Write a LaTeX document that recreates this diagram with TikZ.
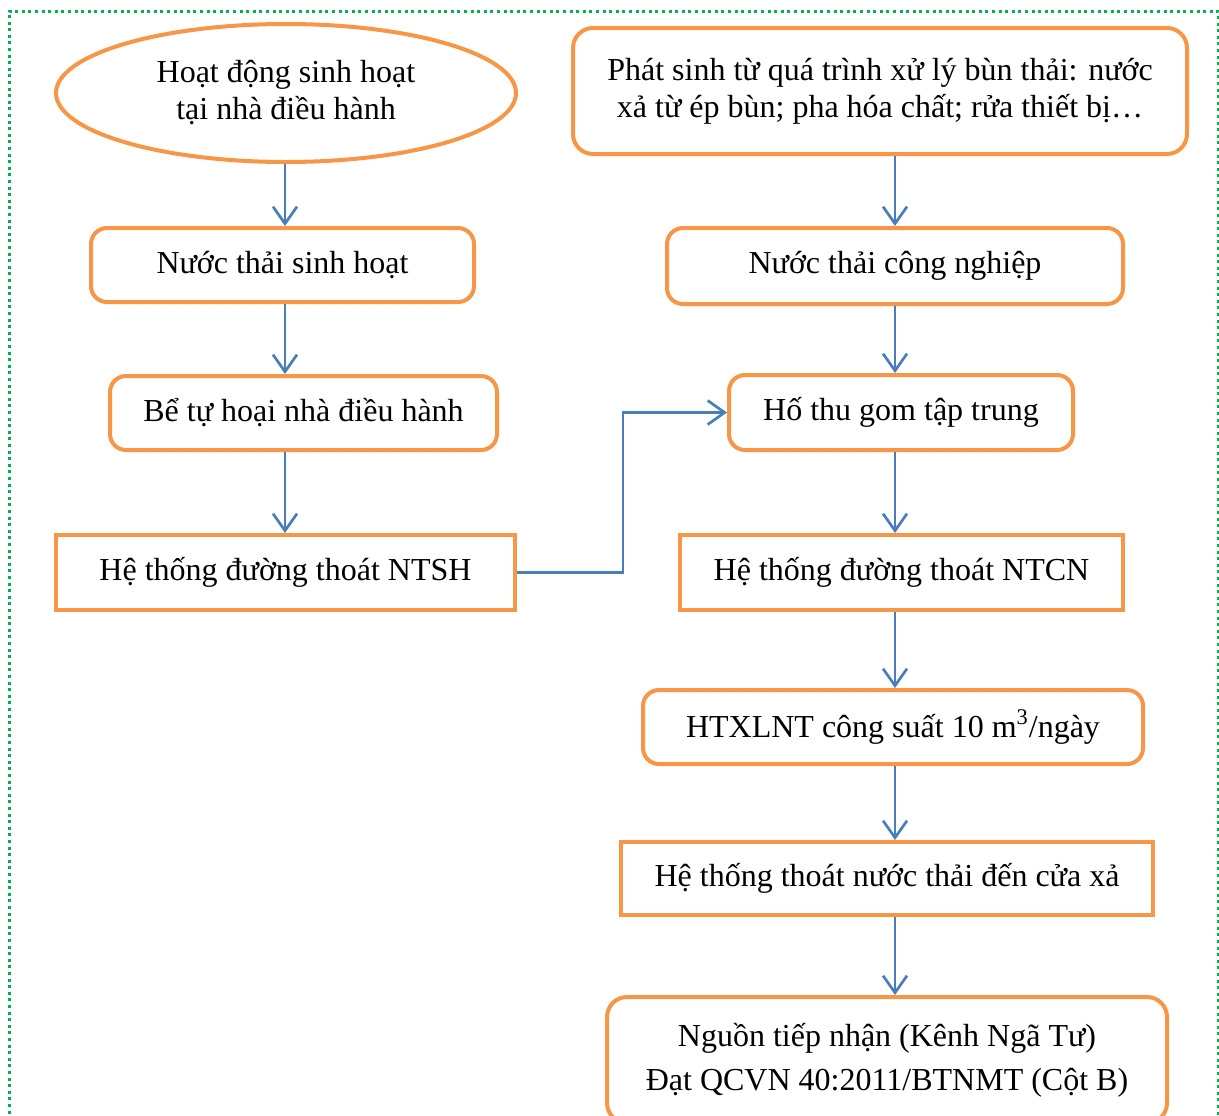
\documentclass[tikz,border=0pt]{standalone}
\usepackage{fontspec}
\setmainfont{Liberation Serif}
\usetikzlibrary{arrows.meta,shapes.geometric}
\definecolor{boxorange}{HTML}{F79646}
\definecolor{arrblue}{HTML}{4A7EBB}
\definecolor{framegreen}{HTML}{00B050}
\begin{document}
\begin{tikzpicture}[x=0.5pt,y=-0.5pt,
  every node/.style={font=\fontsize{16pt}{18.5pt}\selectfont, align=center, inner sep=0pt},
  rbox/.style={draw=boxorange, line width=2pt, rounded corners=8pt, fill=white},
  sbox/.style={draw=boxorange, line width=2pt, fill=white},
  oval/.style={draw=boxorange, line width=2pt, ellipse, fill=white},
  flow/.style={draw=arrblue, line width=1.35pt, -{Straight Barb[length=8.5pt,width=12pt,line width=1.35pt]}},
  frame/.style={draw=framegreen, line width=1.5pt, dash pattern=on 1.5pt off 1.8pt}
]
\useasboundingbox (0,0) rectangle (1219,1115);
\clip (0,0) rectangle (1219,1115);
\fill[white] (0,0) rectangle (1219,1115);
\draw[frame] (9,1140) -- (9,11) -- (1218,11) -- (1218,1140);

\coordinate (colL) at (285,0);
\coordinate (colR) at (895,0);
\coordinate (elbow) at (623,0);

\node[oval, minimum width=230pt, minimum height=69pt] (ell) at (286,93) {Hoạt động sinh hoạt\\tại nhà điều hành};
\node[rbox, minimum width=307pt, minimum height=63pt, rounded corners=10pt] (p1) at (880,91) {Phát sinh từ quá trình xử lý bùn thải: nước\\xả từ ép bùn; pha hóa chất; rửa thiết bị…};
\node[rbox, minimum width=191.5pt, minimum height=37pt] (n1) at (282.5,265) {Nước thải sinh hoạt};
\node[rbox, minimum width=228pt, minimum height=38pt] (n2) at (895,266) {Nước thải công nghiệp};
\node[rbox, minimum width=193.5pt, minimum height=37pt] (b1) at (303.5,413) {Bể tự hoại nhà điều hành};
\node[rbox, minimum width=172pt, minimum height=37.5pt] (h1) at (901,412.5) {Hố thu gom tập trung};
\node[sbox, minimum width=229.5pt, minimum height=37.5pt] (s1) at (285.5,572.5) {Hệ thống đường thoát NTSH};
\node[sbox, minimum width=221.5pt, minimum height=37.5pt] (s2) at (901.5,572.5) {Hệ thống đường thoát NTCN};
\node[rbox, minimum width=250pt, minimum height=37pt] (x1) at (893,727) {HTXLNT công suất 10 m\textsuperscript{3}/ngày};
\node[sbox, minimum width=266pt, minimum height=36.5pt] (t1) at (887,878.5) {Hệ thống thoát nước thải đến cửa xả};
\node[rbox, minimum width=280pt, minimum height=63pt, rounded corners=10pt, font=\fontsize{16pt}{22pt}\selectfont] (r1) at (887,1060) {Nguồn tiếp nhận (Kênh Ngã Tư)\\Đạt QCVN 40:2011/BTNMT (Cột B)};

\draw[flow] (ell.south -| colL) -- (n1.north -| colL);
\draw[flow] (n1.south -| colL) -- (b1.north -| colL);
\draw[flow] (b1.south -| colL) -- (s1.north -| colL);
\draw[flow] (p1.south -| colR) -- (n2.north -| colR);
\draw[flow] (n2.south -| colR) -- (h1.north -| colR);
\draw[flow] (h1.south -| colR) -- (s2.north -| colR);
\draw[flow] (s2.south -| colR) -- (x1.north -| colR);
\draw[flow] (x1.south -| colR) -- (t1.north -| colR);
\draw[flow] (t1.south -| colR) -- (r1.north -| colR);
\draw[flow] (s1.east) -- (s1.east -| elbow) |- (h1.west);
\end{tikzpicture}
\end{document}
